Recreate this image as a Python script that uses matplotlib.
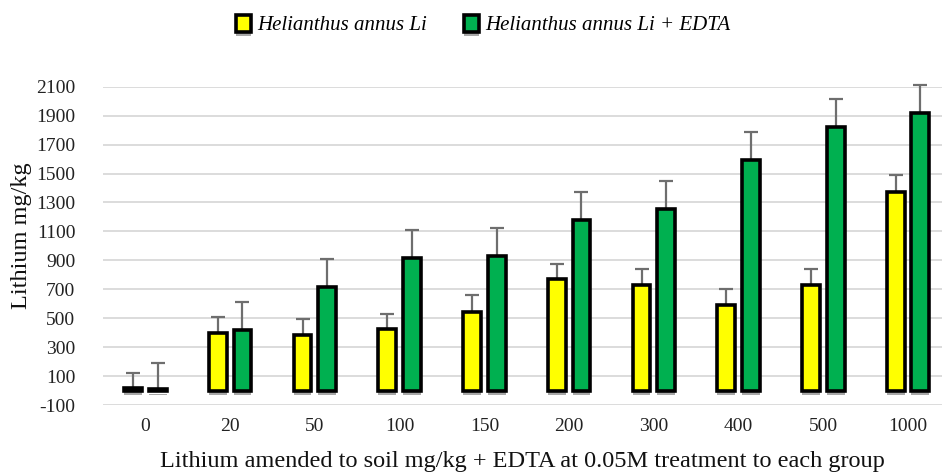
import matplotlib
matplotlib.use("Agg")
import matplotlib.pyplot as plt
import matplotlib.patheffects as pe
import numpy as np

categories = ["0", "20", "50", "100", "150", "200", "300", "400", "500", "1000"]
li_vals = [18, 395, 383, 422, 545, 768, 727, 592, 727, 1375]
li_err = [100, 110, 110, 110, 112, 110, 110, 112, 112, 112]
edta_vals = [8, 418, 716, 915, 928, 1177, 1252, 1592, 1822, 1918]
edta_err = [182, 195, 195, 192, 195, 195, 195, 195, 195, 195]
series_names = ["Helianthus annus Li", "Helianthus annus Li + EDTA"]
yticks = list(range(-100, 2101, 200))

plt.rcParams['font.family'] = ['Liberation Serif', 'DejaVu Serif']

fig = plt.figure(figsize=(9.42, 4.73), dpi=100)
ax = fig.add_axes([103/942, 1 - 405/473, 1 - 103/942, (405 - 86.7)/473])

x = np.arange(len(categories))
w = 0.21
off = 0.145
shadow = [pe.SimplePatchShadow(offset=(0, -3.2), shadow_rgbFace='#a8a8a8', alpha=1.0), pe.Normal()]
b1 = ax.bar(x - off, li_vals, w, color='#FFFF00', edgecolor='black', linewidth=2.6,
            label=series_names[0], zorder=3)
b2 = ax.bar(x + off, edta_vals, w, color='#00B050', edgecolor='black', linewidth=2.6,
            label=series_names[1], zorder=3)
for b in list(b1) + list(b2):
    b.set_path_effects(shadow)

for xs, vals, errs in [(x - off, li_vals, li_err), (x + off, edta_vals, edta_err)]:
    vals = np.array(vals, dtype=float)
    tops = vals + np.array(errs, dtype=float)
    ax.vlines(xs, vals, tops, colors='#6e6e6e', linewidth=1.6, zorder=2, clip_on=False)
    ax.plot(xs, tops, linestyle='none', marker='_', markersize=10, markeredgewidth=1.6,
            color='#6e6e6e', zorder=2, clip_on=False)

ax.set_ylim(-100, 2100)
ax.set_xlim(-0.5, 9.4)
ax.set_yticks(yticks)
ax.set_yticklabels([str(v) for v in yticks])
ax.set_xticks(x)
ax.set_xticklabels(categories)
ax.yaxis.grid(True, color='#d9d9d9', linewidth=1.3, zorder=0)
ax.set_axisbelow(True)
for s in ax.spines.values():
    s.set_visible(False)
ax.tick_params(axis='both', length=0, labelsize=14, colors='#222222')
ax.tick_params(axis='y', pad=20)
ax.tick_params(axis='x', pad=9)

ax.set_xlabel("Lithium amended to soil mg/kg + EDTA at 0.05M treatment to each group",
              fontsize=17.5, labelpad=12, color='#111111')
ax.set_ylabel("Lithium mg/kg", fontsize=17.5, color='#111111')
ax.yaxis.set_label_coords((32 - 103)/839, (405 - 236)/(405 - 86.7))

leg = fig.legend(handles=[b1, b2], labels=series_names, loc='center',
                 bbox_to_anchor=(0.513, 1 - 25/473), ncol=2, frameon=False,
                 prop={'family': ['Liberation Serif'], 'style': 'italic', 'size': 15},
                 handlelength=0.7, handleheight=0.9, handletextpad=0.3, columnspacing=1.8)

fig.savefig("out.png", dpi=100)
